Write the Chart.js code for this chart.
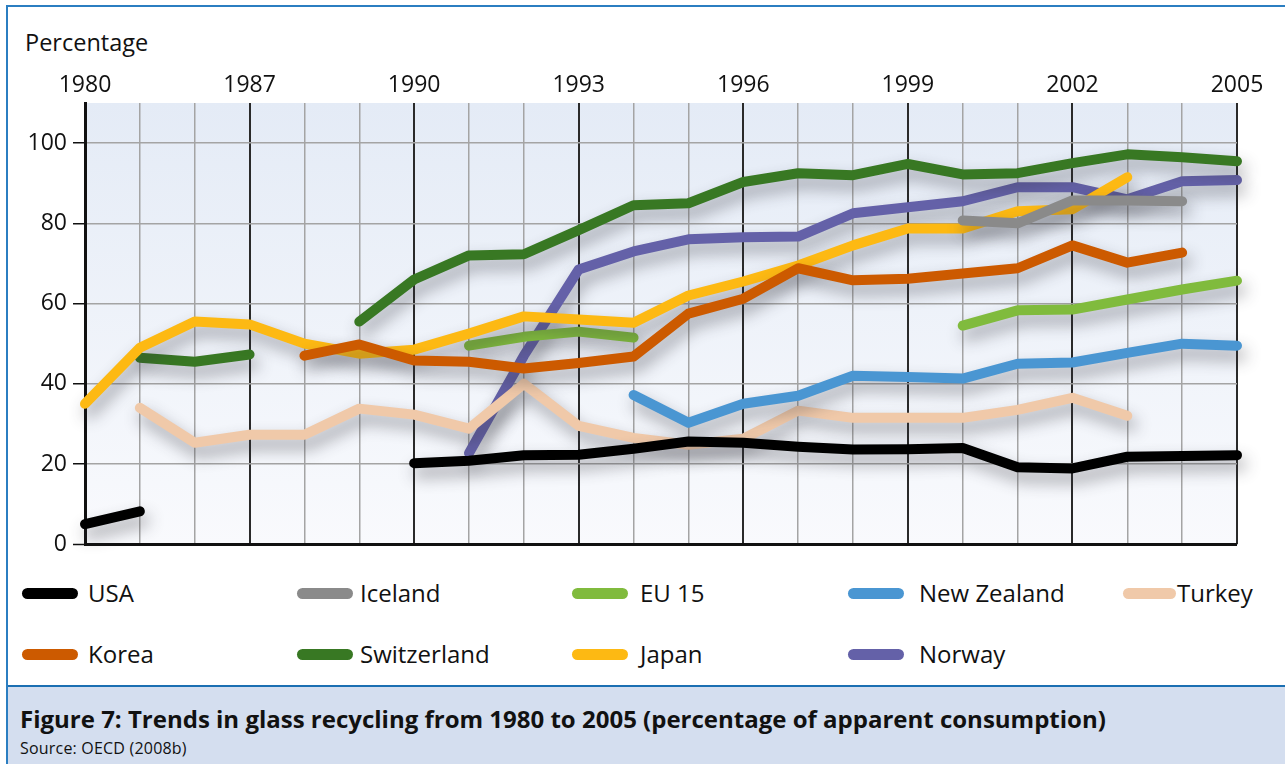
<!DOCTYPE html>
<html>
<head>
<meta charset="utf-8">
<title>Trends in glass recycling</title>
<script src="https://cdn.jsdelivr.net/npm/chart.js@4.4.1/dist/chart.umd.min.js"></script>
<style>
  body { margin: 0; background: #fff; font-family: "Open Sans", sans-serif; color: #111; }
  #wrap { position: relative; width: 1285px; height: 764px; overflow: hidden; }
  #frame { position: absolute; left: 6px; top: 5px; right: -10px; bottom: -10px;
           border-left: 2px solid #2b7ec1; border-top: 2px solid #2b7ec1; }
  #chartBox { position: absolute; left: 0; top: 0; width: 1285px; height: 564px; }
  #ylab { position: absolute; left: 25px; top: 26px; font-size: 23.5px; }
  .lg { position: absolute; height: 30px; font-size: 24px; line-height: 30px; white-space: nowrap; }
  .lg span.sw { position: absolute; top: 10px; height: 11px; border-radius: 6px; }
  #caption { position: absolute; left: 8px; top: 685px; right: 0; bottom: 0;
             background: #d4deef; border-top: 2px solid #1b6fb2; }
  #caption .t { position: absolute; left: 12px; top: 15px; font-size: 24px; font-weight: bold; white-space: nowrap; }
  #caption .s { position: absolute; left: 12px; top: 50px; font-size: 16px; letter-spacing: 0.2px; white-space: nowrap; }
</style>
</head>
<body>
<div id="wrap">
  <div id="frame"></div>
  <div id="ylab">Percentage</div>
  <div id="chartBox"><canvas id="glassChart" width="1285" height="564"></canvas></div>
  <div id="legend"></div>
  <div id="caption">
    <div class="t">Figure 7: Trends in glass recycling from 1980 to 2005 (percentage of apparent consumption)</div>
    <div class="s">Source: OECD (2008b)</div>
  </div>
</div>
<script>
// categories (only every third one is labelled on the top axis)
const years = ['1980', '1985', '1986', '1987', '1988', '1989', '1990', '1991', '1992', '1993', '1994',
  '1995', '1996', '1997', '1998', '1999', '2000', '2001', '2002', '2003', '2004', '2005'];
const yTicks = [0, 20, 40, 60, 80, 100];

// series values (null = no data)
const usa = [5, 8.2, null, null, null, null, 20.2, 20.8, 22.2, 22.3, 23.8, 25.6, 25.3, 24.3, 23.6, 23.7, 24, 19.2, 18.9, 21.8, 22, 22.2];
const iceland = [null, null, null, null, null, null, null, null, null, null, null, null, null, null, null, null, 80.7, 80, 85.7, 85.7, 85.5, null];
const eu15 = [null, null, null, null, null, null, null, 49.5, 51.7, 53, 51.5, null, null, null, null, null, 54.5, 58.3, 58.5, 61, 63.5, 65.7];
const newZealand = [null, null, null, null, null, null, null, null, null, null, 37.2, 30.3, 35, 37, 42, 41.7, 41.3, 45, 45.3, 47.7, 50, 49.5];
const turkey = [null, 34, 25.3, 27.3, 27.3, 33.8, 32.3, 28.8, 40, 29.5, 26.5, 24.8, 26.3, 33.3, 31.5, 31.5, 31.5, 33.5, 36.5, 32, null, null];
const korea = [null, null, null, null, 47, 49.8, 45.8, 45.5, 43.8, 45.2, 46.8, 57.5, 61.2, 68.8, 65.8, 66.2, 67.5, 68.8, 74.5, 70.2, 72.7, null];
const switzerland = [null, 46.5, 45.5, 47.3, null, 55.5, 66, 72, 72.3, 78.3, 84.5, 85, 90.3, 92.5, 92, 94.8, 92.2, 92.5, 95, 97.2, 96.5, 95.5];
const japan = [35, 49, 55.5, 54.8, 50, 47.5, 48.5, 52.5, 56.8, 56, 55.2, 62, 65.5, 69.5, 74.5, 78.7, 78.7, 83, 83.5, 91.5, null, null];
const norway = [null, null, null, null, null, null, null, 22.7, 47, 68.5, 73, 76, 76.5, 76.7, 82.5, 84, 85.5, 89, 89, 86, 90.5, 90.8];

const FONT = '"Open Sans", sans-serif';

// legend order: first row then second row
const series = [
  { label: 'USA', data: usa, color: '#000000', z: 2 },
  { label: 'Iceland', data: iceland, color: '#8a8a8a', z: 1 },
  { label: 'EU 15', data: eu15, color: '#80bb3d', z: 5 },
  { label: 'New Zealand', data: newZealand, color: '#4a96d2', z: 6 },
  { label: 'Turkey', data: turkey, color: '#f0c9a9', z: 7 },
  { label: 'Korea', data: korea, color: '#cc5a00', z: 3 },
  { label: 'Switzerland', data: switzerland, color: '#387823', z: 8 },
  { label: 'Japan', data: japan, color: '#fdb913', z: 4 },
  { label: 'Norway', data: norway, color: '#6461a8', z: 9 }
];

// gradient behind the plot, and the soft drop shadow under each line
const plotBackground = {
  id: 'plotBackground',
  beforeDraw(chart) {
    const { ctx, chartArea: a } = chart;
    const g = ctx.createLinearGradient(0, a.top, 0, a.bottom);
    g.addColorStop(0, '#e4ebf6');
    g.addColorStop(1, '#f9fafd');
    ctx.save();
    ctx.fillStyle = g;
    ctx.fillRect(a.left, a.top, a.right - a.left, a.bottom - a.top);
    ctx.restore();
  }
};
const lineShadow = {
  id: 'lineShadow',
  beforeDatasetDraw(chart) {
    const c = chart.ctx;
    c.save();
    c.shadowColor = 'rgba(50,50,60,0.45)';
    c.shadowBlur = 16;
    c.shadowOffsetX = 4;
    c.shadowOffsetY = 9;
  },
  afterDatasetDraw(chart) {
    chart.ctx.restore();
  }
};

const chart = new Chart(document.getElementById('glassChart'), {
  type: 'line',
  data: {
    labels: years,
    datasets: series.map(s => ({
      label: s.label,
      data: s.data,
      order: s.z,
      borderColor: s.color,
      backgroundColor: s.color,
      borderWidth: 10,
      borderCapStyle: 'round',
      borderJoinStyle: 'round',
      pointRadius: 0,
      tension: 0,
      spanGaps: false,
      clip: false
    }))
  },
  options: {
    responsive: false,
    animation: false,
    layout: { padding: { left: 0, right: 48, top: 0, bottom: 14 } },
    plugins: { legend: { display: false }, tooltip: { enabled: false } },
    scales: {
      x: {
        position: 'top',
        offset: false,
        border: { display: false },
        grid: {
          color: ctx => ctx.index % 3 === 0 ? '#2a2a2a' : '#a4a4a4',
          lineWidth: ctx => ctx.index % 3 === 0 ? 2 : 1.5,
          drawTicks: false,
          tickLength: 0
        },
        ticks: {
          autoSkip: false,
          maxRotation: 0,
          padding: 4,
          color: '#111',
          font: { family: FONT, size: 23 },
          callback: (v, i) => i % 3 === 0 ? years[i] : ''
        },
        afterFit: s => { s.height = 103; }
      },
      y: {
        min: 0,
        max: 110,
        afterBuildTicks: s => { s.ticks = yTicks.map(v => ({ value: v })); },
        border: { color: '#111', width: 3 },
        grid: {
          color: ctx => ctx.tick && ctx.tick.value === 0 ? '#111' : '#a4a4a4',
          lineWidth: ctx => ctx.tick && ctx.tick.value === 0 ? 3 : 1.5,
          tickColor: '#111',
          tickLength: 12,
          tickWidth: 1.5
        },
        ticks: {
          padding: 6,
          color: '#111',
          font: { family: FONT, size: 23 }
        },
        afterFit: s => { s.width = 85; }
      }
    }
  },
  plugins: [plotBackground, lineShadow]
});

// legend built from the chart's datasets
const colX = [22, 297, 572, 848, 1123];
const textX = [88, 360, 640, 919, 1177];
const rowY = [578, 639];
const legend = document.getElementById('legend');
chart.data.datasets.forEach((ds, i) => {
  const row = i < 5 ? 0 : 1;
  const col = i < 5 ? i : i - 5;
  const item = document.createElement('div');
  item.className = 'lg';
  item.style.left = colX[col] + 'px';
  item.style.top = rowY[row] + 'px';
  const sw = document.createElement('span');
  sw.className = 'sw';
  sw.style.left = '0px';
  sw.style.width = (col === 4 ? 53 : 56) + 'px';
  sw.style.background = ds.borderColor;
  const tx = document.createElement('span');
  tx.style.position = 'absolute';
  tx.style.left = (textX[col] - colX[col]) + 'px';
  tx.textContent = ds.label;
  item.appendChild(sw);
  item.appendChild(tx);
  legend.appendChild(item);
});
</script>
</body>
</html>
